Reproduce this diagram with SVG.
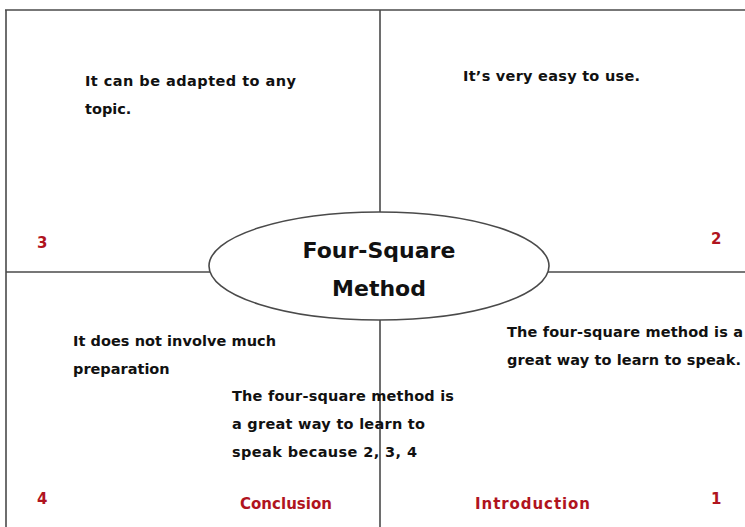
<svg xmlns="http://www.w3.org/2000/svg" width="745" height="527" viewBox="0 0 745 527">
<style>
.ln{stroke:#4a4a4a;stroke-width:1.6;fill:none}
.t{font-family:"DejaVu Sans","Noto Sans",sans-serif;font-weight:bold;font-size:14.5px;fill:#111}
.r{font-family:"DejaVu Sans","Noto Sans",sans-serif;font-weight:bold;font-size:15px;fill:#b0141e}
.c{font-family:"DejaVu Sans","Noto Sans",sans-serif;font-weight:bold;font-size:22px;fill:#111;text-anchor:middle}
</style>
<rect width="745" height="527" fill="#fff"/>
<g id="connectors">
<line class="ln" x1="5" y1="10" x2="745" y2="10"/>
<line class="ln" x1="6" y1="10" x2="6" y2="527"/>
<line class="ln" x1="380" y1="10" x2="380" y2="212"/>
<line class="ln" x1="380" y1="320" x2="380" y2="527"/>
<line class="ln" x1="6" y1="272" x2="210" y2="272"/>
<line class="ln" x1="548" y1="272" x2="745" y2="272"/>
</g>
<g id="center">
<ellipse cx="379" cy="266" rx="170" ry="54" fill="#fff" stroke="#4a4a4a" stroke-width="1.6"/>
<text class="c" x="379" y="258">Four-Square</text>
<text class="c" x="379" y="296">Method</text>
</g>
<g id="q3">
<text class="t" x="85" y="86" textLength="211">It can be adapted to any</text>
<text class="t" x="85" y="114">topic.</text>
<text class="r" x="37" y="248">3</text>
</g>
<g id="q2">
<text class="t" x="463" y="81" textLength="177">It’s very easy to use.</text>
<text class="r" x="711" y="244">2</text>
</g>
<g id="q4">
<text class="t" x="73" y="346" textLength="203">It does not involve much</text>
<text class="t" x="73" y="374">preparation</text>
<text class="t" x="232" y="401" textLength="222">The four-square method is</text>
<text class="t" x="232" y="429" textLength="193">a great way to learn to</text>
<text class="t" x="232" y="457" textLength="185">speak because 2, 3, 4</text>
<text class="r" x="37" y="504">4</text>
<text class="r" x="240" y="509" font-size="17" textLength="92">Conclusion</text>
</g>
<g id="q1">
<text class="t" x="507" y="337" textLength="236">The four-square method is a</text>
<text class="t" x="507" y="365" textLength="234">great way to learn to speak.</text>
<text class="r" x="475" y="509" font-size="17" textLength="115">Introduction</text>
<text class="r" x="711" y="504">1</text>
</g>
</svg>
